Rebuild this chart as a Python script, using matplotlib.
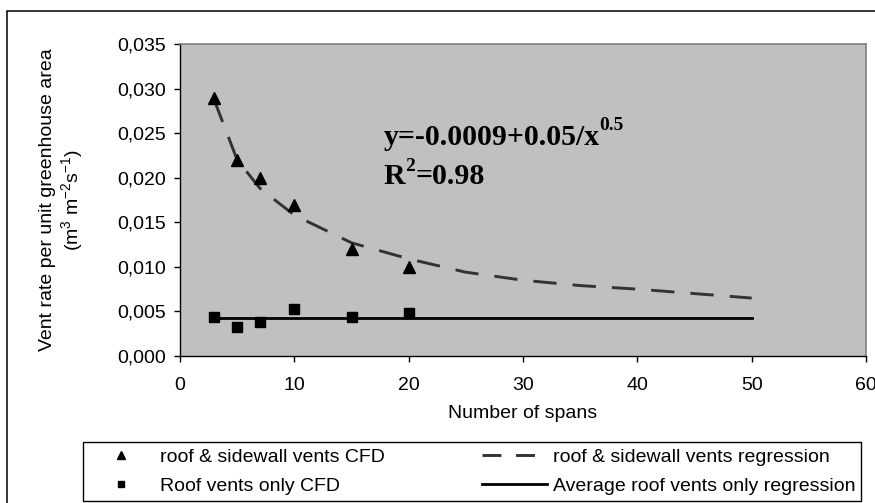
import matplotlib
matplotlib.use("Agg")
import matplotlib.pyplot as plt
from matplotlib.ticker import FuncFormatter, MultipleLocator
from matplotlib.lines import Line2D
from matplotlib.patches import Rectangle

# ---- data ----
spans_cfd = [3, 5, 7, 10, 15, 20]
roof_sidewall_cfd = [0.0289, 0.0220, 0.0200, 0.0169, 0.0120, 0.0100]
roof_only_cfd = [0.0044, 0.0033, 0.0038, 0.0053, 0.0044, 0.0048]

spans_reg = [3, 5, 7, 10, 15, 20, 25, 30, 35, 40, 45, 50]
roof_sidewall_reg = [0.0287, 0.0220, 0.0188, 0.0158, 0.0127, 0.0109,
                     0.0094, 0.0085, 0.0079, 0.0075, 0.0070, 0.0065]
avg_roof_only = [0.0043] * len(spans_reg)

legend_labels = ["roof & sidewall vents CFD", "roof & sidewall vents regression",
                 "Roof vents only CFD", "Average roof vents only regression"]
eq_text = "y=-0.0009+0.05/x"
eq_exp = "0.5"
r2_text = "R"
r2_rest = "=0.98"

plt.rcParams['font.family'] = ['Liberation Sans', 'DejaVu Sans']
plt.rcParams['mathtext.fontset'] = 'custom'
plt.rcParams['mathtext.rm'] = 'Liberation Sans'
plt.rcParams['mathtext.it'] = 'Liberation Sans'
plt.rcParams['mathtext.default'] = 'regular'

W, H = 875, 503
fig = plt.figure(figsize=(W / 100, H / 100), dpi=100)
fig.patch.set_facecolor('white')

# outer chart border (left/top visible, right/bottom cut off)
fig.add_artist(Rectangle((7 / W, -0.05), 1.2, 1 - 11 / H + 0.05, transform=fig.transFigure,
                         fill=False, ec='black', lw=1.1, clip_on=False))

ax = fig.add_axes([180 / W, 1 - 356 / H, (866 - 180) / W, (356 - 44) / H])
ax.set_facecolor('#C0C0C0')
ax.set_xlim(0, 60)
ax.set_ylim(0, 0.035)
ax.xaxis.set_major_locator(MultipleLocator(10))
ax.yaxis.set_major_locator(MultipleLocator(0.005))
ax.yaxis.set_major_formatter(FuncFormatter(lambda v, p: f"{v:.3f}".replace('.', ',')))
ax.xaxis.set_major_formatter(FuncFormatter(lambda v, p: f"{int(round(v))}"))

for s in ['top', 'right']:
    ax.spines[s].set_color('#808080')
    ax.spines[s].set_linewidth(1.2)
for s in ['left', 'bottom']:
    ax.spines[s].set_color('black')
    ax.spines[s].set_linewidth(1.0)
ax.tick_params(axis='both', direction='out', length=4, width=1, labelsize=14, colors='black')
ax.tick_params(axis='y', pad=6)
ax.tick_params(axis='x', pad=11)

l_reg, = ax.plot(spans_reg, roof_sidewall_reg, color='#333333', lw=2.1,
                 linestyle=(0, (8.0, 5.5)), dash_capstyle='butt', zorder=2)
l_avg, = ax.plot(spans_reg, avg_roof_only, color='black', lw=2.0, zorder=2)
m_tri, = ax.plot(spans_cfd, roof_sidewall_cfd, linestyle='none', marker='^', ms=9,
                 color='black', zorder=3)
m_sq, = ax.plot(spans_cfd, roof_only_cfd, linestyle='none', marker='s', ms=7,
                color='black', zorder=3)

# equation annotation
t1 = ax.text(17.8, 0.02367, eq_text, fontsize=21.5, fontweight='bold',
             family='Liberation Serif', va='baseline', ha='left')
ax.annotate(eq_exp, xy=(1.0, 0.64), xycoords=t1, fontsize=14, fontweight='bold',
            family='Liberation Serif', va='bottom', ha='left')
t2 = ax.text(17.8, 0.0193, r2_text, fontsize=21.5, fontweight='bold',
             family='Liberation Serif', va='baseline', ha='left')
ax.annotate("2", xy=(1.0, 0.56), xycoords=t2, fontsize=14, fontweight='bold',
            family='Liberation Serif', va='bottom', ha='left')
ax.annotate(r2_rest, xy=(1.0, 0.0), xycoords=t2, xytext=(10, 0), textcoords='offset pixels',
            fontsize=21.5, fontweight='bold', family='Liberation Serif', va='bottom', ha='left')

# axis labels
fig.text(523 / W, 1 - 413 / H, "Number of spans", fontsize=14, ha='center', va='center')
fig.text(62 / W, 1 - 200 / H, "Vent rate per unit greenhouse area\n(m$^3$ m$^{-2}$s$^{-1}$)",
         fontsize=14, rotation=90, ha='center', va='center', multialignment='center',
         linespacing=1.15)

# legend
leg_handles = [Line2D([], [], linestyle='none', marker='^', ms=6, color='black'),
               Line2D([], [], color='#333333', lw=2.1, linestyle=(0, (6.5, 5.0))),
               Line2D([], [], linestyle='none', marker='s', ms=5, color='black'),
               Line2D([], [], color='black', lw=2.0)]
leg = fig.legend([leg_handles[0], leg_handles[2], leg_handles[1], leg_handles[3]],
                 [legend_labels[0], legend_labels[2], legend_labels[1], legend_labels[3]],
                 ncol=2, loc='lower left',
                 bbox_to_anchor=(83 / W, 1 - 501 / H), bbox_transform=fig.transFigure,
                 fontsize=14, frameon=True, fancybox=False, framealpha=1,
                 edgecolor='black', borderpad=0.3, handlelength=3.35, handletextpad=0.3,
                 columnspacing=5.0, labelspacing=0.62, borderaxespad=0)
leg.get_frame().set_linewidth(1.0)

fig.savefig("out.png", dpi=100, facecolor='white')
